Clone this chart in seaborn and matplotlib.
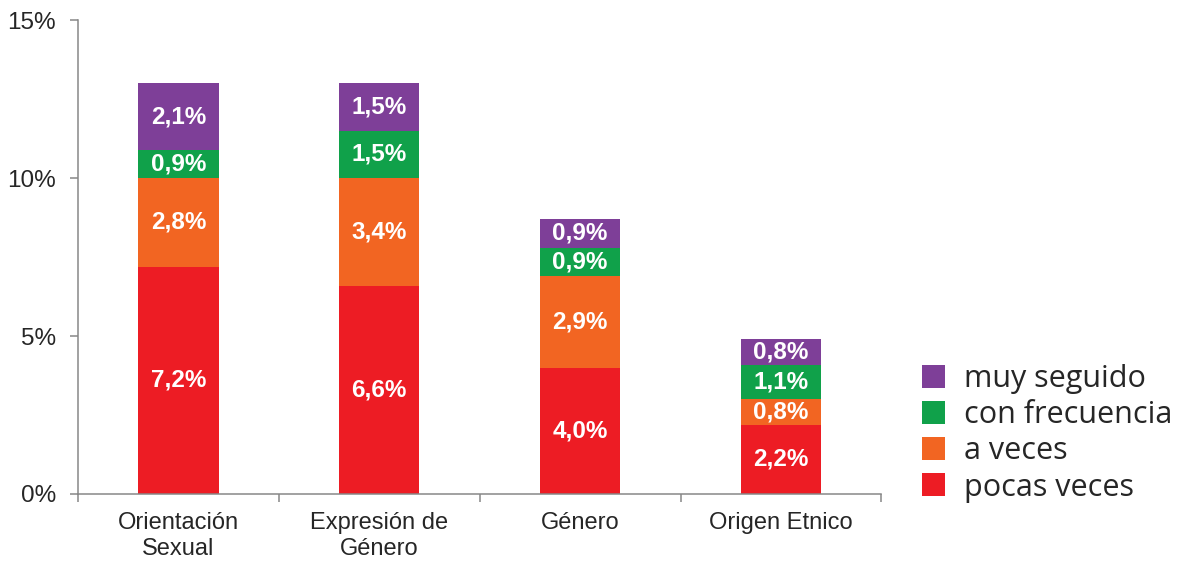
import matplotlib.pyplot as plt
import numpy as np
import pandas as pd
import seaborn as sns
from matplotlib.patches import Patch

categories = ["Orientación\nSexual", "Expresión de\nGénero", "Género", "Origen Etnico"]
series = ["pocas veces", "a veces", "con frecuencia", "muy seguido"]
pocas_veces = [7.2, 6.6, 4.0, 2.2]
a_veces = [2.8, 3.4, 2.9, 0.8]
con_frecuencia = [0.9, 1.5, 0.9, 1.1]
muy_seguido = [2.1, 1.5, 0.9, 0.8]
colors = ["#ED1C24", "#F26522", "#10A14A", "#7E3F98"]
y_ticks = [0, 5, 10, 15]

sns.set_theme(style="white")
plt.rcParams["font.family"] = ["Liberation Sans", "DejaVu Sans"]

values = np.array([pocas_veces, a_veces, con_frecuencia, muy_seguido])
cum = np.cumsum(values, axis=0)

fig = plt.figure(figsize=(11.83, 5.62), dpi=100)
ax = fig.add_axes([0.066, 0.121, 0.679, 0.843])

# draw cumulative totals from the tallest layer down so the stacks overlap
for i in range(len(series) - 1, -1, -1):
    df = pd.DataFrame({"cat": categories, "val": cum[i]})
    sns.barplot(data=df, x="cat", y="val", order=categories, color=colors[i],
                saturation=1, width=0.4, linewidth=0, ax=ax)

for i in range(len(series)):
    for j in range(len(categories)):
        base = cum[i][j] - values[i][j]
        ax.text(j, base + values[i][j] / 2, f"{values[i][j]:.1f}%".replace(".", ","),
                ha="center", va="center", color="white", fontsize=17.5,
                fontweight="bold")

ax.set_xlim(-0.5, 3.5)
ax.set_ylim(0, 15)
ax.set_yticks(y_ticks)
ax.set_yticklabels([f"{t}%" for t in y_ticks], fontsize=17.5)
ax.set_xlabel("")
ax.set_ylabel("")
for lbl in ax.get_xticklabels():
    lbl.set_linespacing(1.25)
ax.tick_params(axis="x", which="major", length=0, labelsize=17, pad=13)
ax.set_xticks([-0.5, 0.5, 1.5, 2.5, 3.5], minor=True)
ax.tick_params(axis="x", which="minor", length=6, width=1.1, color="#878787",
               direction="out", bottom=True)
ax.tick_params(axis="y", length=6, width=1.1, color="#878787", direction="out",
               left=True, pad=10)
for side in ["top", "right"]:
    ax.spines[side].set_visible(False)
for side in ["left", "bottom"]:
    ax.spines[side].set_color("#878787")
    ax.spines[side].set_linewidth(1.1)

handles = [Patch(facecolor=colors[i], edgecolor="none", label=series[i])
           for i in range(len(series) - 1, -1, -1)]
fig.legend(handles=handles, loc="upper left", bbox_to_anchor=(0.779, 0.352),
           frameon=False, prop={"family": "Open Sans", "size": 22},
           handlelength=0.78, handleheight=0.78, handletextpad=0.62,
           labelspacing=0.2, borderpad=0, borderaxespad=0)

fig.savefig("out.png", dpi=100)
